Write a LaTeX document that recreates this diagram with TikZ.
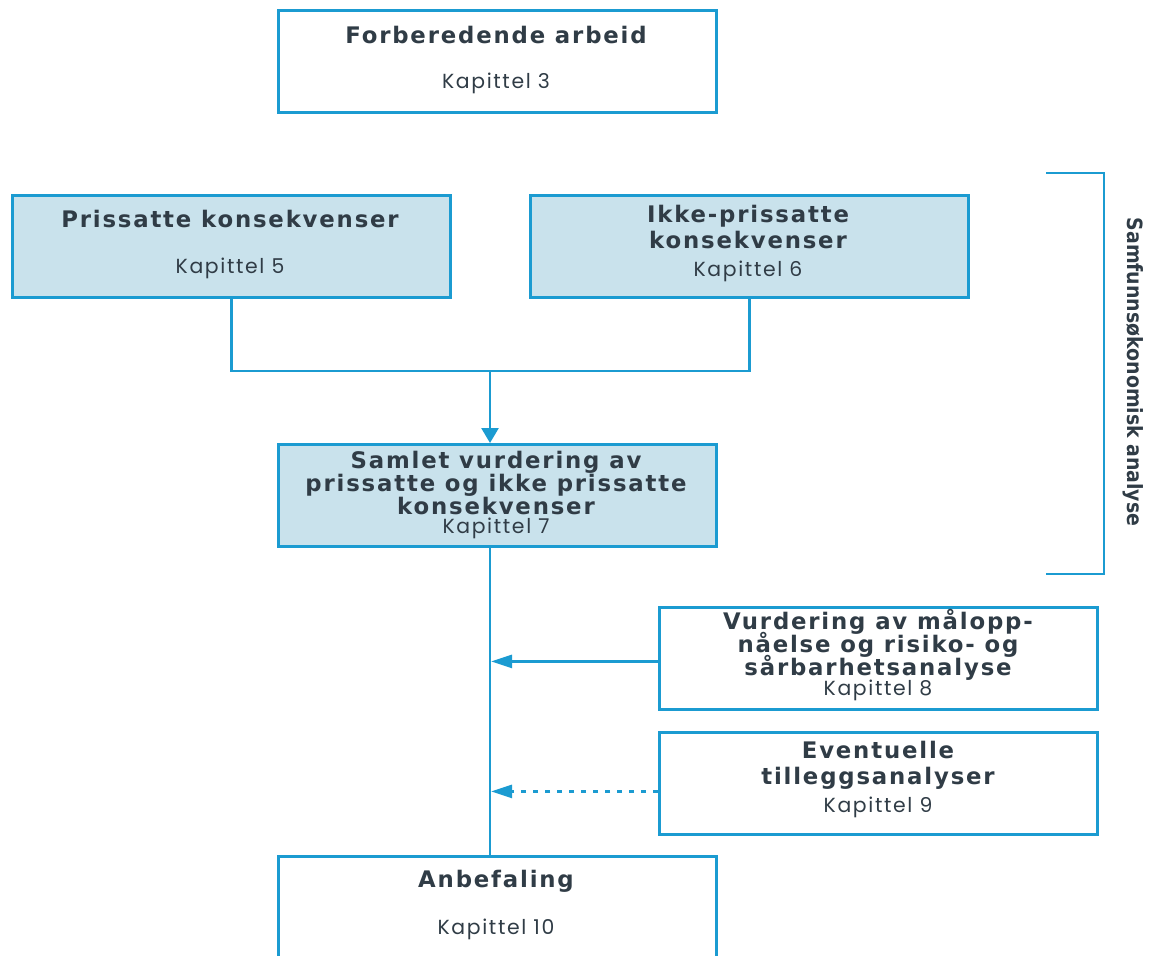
\documentclass[tikz,border=0pt]{standalone}
\usepackage{fontspec}
\setmainfont{Poppins}
\newfontfamily\tittelfont[LetterSpace=8]{DejaVu Sans}
\newfontfamily\kapfont[LetterSpace=8]{Poppins}
\newfontfamily\condfont{DejaVu Sans Condensed}
\newcommand\tettlinje{\lineskiplimit=-20pt\relax}
\usetikzlibrary{arrows.meta, calc}
\definecolor{linjeblaa}{HTML}{1B9BD1}
\definecolor{fyllblaa}{HTML}{C9E2EC}
\definecolor{tekstgraa}{HTML}{303C46}

\begin{document}
\begin{tikzpicture}%
	[x=0.5pt, y=-0.5pt,
	boks/.style={draw=linjeblaa, line width=1.4pt, anchor=north west, inner sep=0pt,
		minimum width=219pt, minimum height=51pt},
	fylt/.style={boks, fill=fyllblaa},
	tittel/.style={text=tekstgraa, align=center, inner sep=0pt,
		font=\tittelfont\fontsize{11.4}{11.6}\selectfont\bfseries\tettlinje},
	kapittel/.style={text=tekstgraa, inner sep=0pt, font=\kapfont\fontsize{10.2}{12}\selectfont},
	linje/.style={draw=linjeblaa, line width=1.3pt},
	pil/.style={linje, -{Triangle[length=7.5pt, width=8.5pt]}},
	pilinn/.style={linje, -{Triangle[length=10.5pt, width=6.5pt]}},
	stiplet/.style={pilinn, dash pattern=on 2.5pt off 3.5pt}]
%
\useasboundingbox (0,0) rectangle (1155,955);
%
%% Boksene
\node[boks] (forb) at (277,9) {};
\node[fylt] (pris) at (11,194) {};
\node[fylt] (ikke) at (529,194) {};
\node[fylt] (samlet) at (277,443) {};
\node[boks] (vurd) at (658,606) {};
\node[boks] (event) at (658,731) {};
\node[boks, minimum height=70pt] (anbef) at (277,855) {};
%
%% Tekst i boksene
\node[tittel] (forb-t) at (496,35) {Forberedende arbeid};
\node[kapittel] (forb-k) at (496,83) {Kapittel 3};
\node[tittel] (pris-t) at (230,219) {Prissatte konsekvenser};
\node[kapittel] (pris-k) at (230,268) {Kapittel 5};
\node[tittel] (ikke-t) at (748,227) {Ikke-prissatte\\[1.5pt]konsekvenser};
\node[kapittel] (ikke-k) at (748,271) {Kapittel 6};
\node[tittel] (samlet-t) at (496,483) {Samlet vurdering av\\prissatte og ikke prissatte\\konsekvenser};
\node[kapittel] (samlet-k) at (496,528) {Kapittel 7};
\node[tittel] (vurd-t) at (878,645) {Vurdering av målopp-\\nåelse og risiko- og\\sårbarhetsanalyse};
\node[kapittel] (vurd-k) at (878,690) {Kapittel 8};
\node[tittel] (event-t) at (878,765) {Eventuelle\\[1.5pt]tilleggsanalyser};
\node[kapittel] (event-k) at (878,807) {Kapittel 9};
\node[tittel] (anbef-t) at (496,881) {Anbefaling};
\node[kapittel] (anbef-k) at (496,929) {Kapittel 10};
%
%% Forbindelser
\coordinate (samling) at (490,371);
\coordinate (stamme) at (490,546);
\draw[linje] (pris.south) |- (samling) -| (ikke.south);
\draw[pil] (samling) -- (samling |- samlet.north);
\draw[linje] (stamme |- samlet.south) -- (stamme |- anbef.north);
\draw[pilinn] ($(vurd.west)+(0,3)$) -- ($(vurd.west -| stamme)+(1,3)$);
\draw[stiplet] ($(event.west)+(0,8)$) -- ($(event.west -| stamme)+(1,8)$);
%
%% Klammen
\coordinate (klamme-topp) at (1046,173);
\coordinate (klamme-bunn) at (1046,574);
\draw[linje] (klamme-topp) -| ($(klamme-bunn)+(58,0)$) -- (klamme-bunn);
\node[rotate=-90, text=tekstgraa, font=\condfont\fontsize{10.5}{12}\selectfont\bfseries] (samf) at (1133,372) {Samfunnsøkonomisk analyse};
%
\end{tikzpicture}
\end{document}
